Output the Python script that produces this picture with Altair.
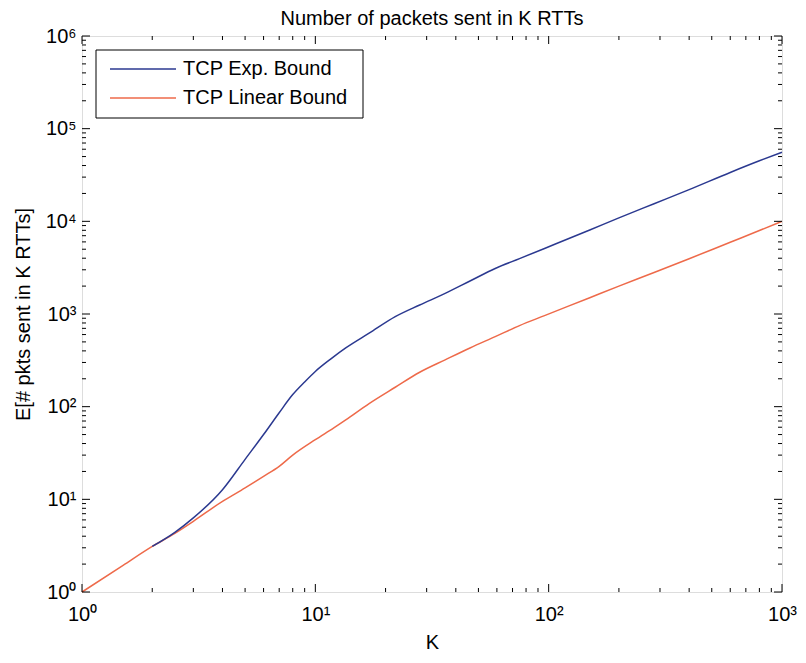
import altair as alt
import pandas as pd

# ---------------- data ----------------
series_names = ["TCP Exp. Bound", "TCP Linear Bound"]
series_colors = ["#2b3990", "#ee6a4a"]

K_exp = [2, 2.5, 3, 4, 5, 6, 7, 8, 9, 10, 11.7, 13.5, 17, 22, 28, 36, 46, 59,
         75, 96, 150, 200, 283, 400, 600, 800, 1000]
exp_vals = [3.1, 4.4, 6.3, 12.7, 27, 50, 86, 135, 185, 240, 330, 430, 620, 935,
            1250, 1670, 2270, 3100, 3960, 5100, 8070, 10900, 15500, 22000,
            33700, 45000, 55600]

K_lin = [1, 1.5, 2, 2.5, 3, 4, 5, 6, 7, 8, 10, 12, 13.5, 17, 22, 28, 36, 46,
         59, 75, 96, 150, 200, 283, 400, 600, 800, 1000]
lin_vals = [1, 1.94, 3.1, 4.3, 5.8, 9.5, 13.3, 17.7, 22.7, 30, 44, 59, 72, 108,
            162, 235, 320, 430, 570, 750, 960, 1500, 2000, 2800, 3950, 5950,
            7950, 10000]

x_major = [1, 10, 100, 1000]
y_major = [1, 10, 100, 1000, 10000, 100000, 1000000]

title_text = "Number of packets sent in K RTTs"
x_title = "K"
y_title = "E[# pkts sent in K RTTs]"

# ---------------- layout ----------------
W, H = 700, 556
FONT = "Liberation Sans"
FS = 20
MAJ, MIN = 8, 4

x_minor = [m * d for d in x_major[:-1] for m in range(2, 10)]
y_minor = [m * d for d in y_major[:-1] for m in range(2, 10)]

xs = alt.Scale(type="log", domain=[x_major[0], x_major[-1]], nice=False)
ys = alt.Scale(type="log", domain=[y_major[0], y_major[-1]], nice=False)

sup = ("'10' + (datum.value < 5 ? '\u2070' : datum.value < 50 ? '\u00b9' : "
       "datum.value < 500 ? '\u00b2' : datum.value < 5000 ? '\u00b3' : "
       "datum.value < 50000 ? '\u2074' : datum.value < 500000 ? '\u2075' : '\u2076')")

x_axis = alt.Axis(values=x_major, labelExpr=sup, ticks=False, domain=False,
                  grid=False, title=x_title, labelFont=FONT, labelFontSize=FS,
                  labelColor="black", titleFont=FONT, titleFontSize=FS,
                  titleFontWeight="normal", titleColor="black",
                  labelPadding=12, titlePadding=8, labelFlush=False)
y_axis = alt.Axis(values=y_major, labelExpr=sup, ticks=False, domain=False,
                  grid=False, title=y_title, labelFont=FONT, labelFontSize=FS,
                  labelColor="black", titleFont=FONT, titleFontSize=FS,
                  titleFontWeight="normal", titleColor="black",
                  labelPadding=6, titlePadding=12, labelFlush=False)

df_exp = pd.DataFrame({"K": K_exp, "E": exp_vals, "series": series_names[0]})
df_lin = pd.DataFrame({"K": K_lin, "E": lin_vals, "series": series_names[1]})

X = alt.X("K:Q", scale=xs, axis=x_axis)
Y = alt.Y("E:Q", scale=ys, axis=y_axis)

red = alt.Chart(df_lin).mark_line(strokeWidth=1.5, color=series_colors[1],
                                  interpolate="monotone").encode(x=X, y=Y)
blue = alt.Chart(df_exp).mark_line(strokeWidth=1.5, color=series_colors[0],
                                   interpolate="monotone").encode(x=X, y=Y)


def xticks(vals, length):
    d = pd.DataFrame({"K": vals})
    bot = alt.Chart(d).mark_rule(color="black", strokeWidth=1).encode(
        x=X, y=alt.value(H), y2=alt.value(H - length))
    top = alt.Chart(d).mark_rule(color="black", strokeWidth=1).encode(
        x=X, y=alt.value(0), y2=alt.value(length))
    return [bot, top]


def yticks(vals, length):
    d = pd.DataFrame({"E": vals})
    left = alt.Chart(d).mark_rule(color="black", strokeWidth=1).encode(
        y=Y, x=alt.value(0), x2=alt.value(length))
    right = alt.Chart(d).mark_rule(color="black", strokeWidth=1).encode(
        y=Y, x=alt.value(W), x2=alt.value(W - length))
    return [left, right]


tick_layers = (xticks(x_major, MAJ) + xticks(x_minor, MIN) +
               yticks(y_major, MAJ) + yticks(y_minor, MIN))

# ---------------- legend box ----------------
one = pd.DataFrame({"a": [0]})
box = alt.Chart(one).mark_rect(fill="white", stroke="black", strokeWidth=1).encode(
    x=alt.value(14), x2=alt.value(281), y=alt.value(14), y2=alt.value(82))
leg = [box]
for i, (name, col) in enumerate(zip(series_names, series_colors)):
    yy = 33 + 29 * i
    leg.append(alt.Chart(one).mark_rule(color=col, strokeWidth=1.5).encode(
        x=alt.value(28), x2=alt.value(94), y=alt.value(yy)))
    leg.append(alt.Chart(one).mark_text(text=name, font=FONT, fontSize=FS,
                                        align="left", baseline="middle",
                                        color="black").encode(
        x=alt.value(101), y=alt.value(yy)))

chart = alt.layer(red, blue, *tick_layers, *leg).properties(
    width=W, height=H,
    title=alt.TitleParams(title_text, font=FONT, fontSize=FS, fontWeight="normal",
                          color="black", anchor="middle", offset=-3),
    autosize=alt.AutoSizeParams(type="none"),
    padding={"left": 74, "top": 28, "right": 16, "bottom": 63},
).configure_view(stroke="black", strokeWidth=1.2).configure(background="white")

chart.save("out.html", embed_options={"renderer": "svg", "actions": False})
